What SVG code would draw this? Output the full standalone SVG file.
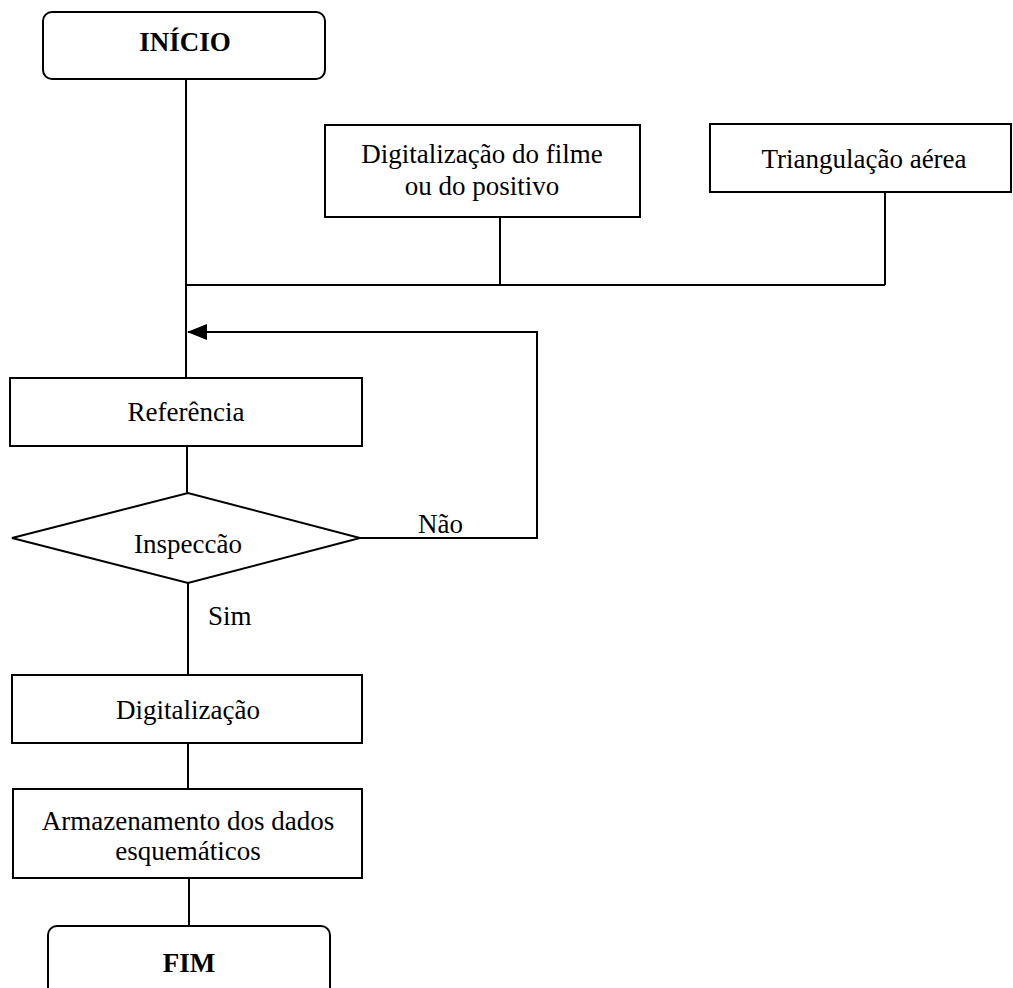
<svg xmlns="http://www.w3.org/2000/svg" width="1013" height="988" viewBox="0 0 1013 988">
  <defs>
    <style>
      .box { fill: #ffffff; stroke: #000000; stroke-width: 2; }
      .wire { fill: none; stroke: #000000; stroke-width: 2; }
      .lbl { font-family: "Liberation Serif", "Times New Roman", serif; font-size: 27px; fill: #000000; text-anchor: middle; }
      .term { font-weight: bold; }
      .side { text-anchor: start; }
    </style>
    <!-- solid triangular head, tip at the end of the path -->
    <marker id="arrow" viewBox="0 0 20 16" refX="19" refY="8" markerWidth="20" markerHeight="16" markerUnits="userSpaceOnUse" orient="auto">
      <path d="M0,0 L20,8 L0,16 Z" fill="#000000"/>
    </marker>
  </defs>
  <rect width="1013" height="988" fill="#ffffff"/>

  <!-- connectors -->
  <g id="connectors">
    <path class="wire" d="M186,79 V378"/>
    <path class="wire" d="M500,217 V285"/>
    <path class="wire" d="M885,192 V285"/>
    <path class="wire" d="M186,285 H885"/>
    <path class="wire" d="M187,446 V493"/>
    <path class="wire" d="M360,538 H537 V332 H188" marker-end="url(#arrow)"/>
    <path class="wire" d="M188,583 V675"/>
    <path class="wire" d="M188,743 V789"/>
    <path class="wire" d="M189,878 V926"/>
    <text class="lbl side" x="418" y="533">Não</text>
    <text class="lbl side" x="208" y="625">Sim</text>
  </g>

  <g id="inicio">
    <rect class="box" x="43" y="12" width="282" height="67" rx="9"/>
    <text class="lbl term" x="185" y="51">INÍCIO</text>
  </g>

  <g id="digitalizacao-filme">
    <rect class="box" x="325" y="125" width="315" height="92"/>
    <text class="lbl" x="482" y="163">Digitalização do filme</text>
    <text class="lbl" x="482" y="195">ou do positivo</text>
  </g>

  <g id="triangulacao">
    <rect class="box" x="710" y="124" width="301" height="68"/>
    <text class="lbl" x="864" y="168">Triangulação aérea</text>
  </g>

  <g id="referencia">
    <rect class="box" x="10" y="378" width="352" height="68"/>
    <text class="lbl" x="186" y="421">Referência</text>
  </g>

  <g id="inspeccao">
    <polygon class="box" points="12,538 188,493 360,538 188,583"/>
    <text class="lbl" x="188" y="553">Inspeccão</text>
  </g>

  <g id="digitalizacao">
    <rect class="box" x="12" y="675" width="350" height="68"/>
    <text class="lbl" x="188" y="719">Digitalização</text>
  </g>

  <g id="armazenamento">
    <rect class="box" x="13" y="789" width="349" height="89"/>
    <text class="lbl" x="188" y="830">Armazenamento dos dados</text>
    <text class="lbl" x="188" y="860">esquemáticos</text>
  </g>

  <g id="fim">
    <rect class="box" x="48" y="926" width="282" height="70" rx="9"/>
    <text class="lbl term" x="189" y="972">FIM</text>
  </g>
</svg>
